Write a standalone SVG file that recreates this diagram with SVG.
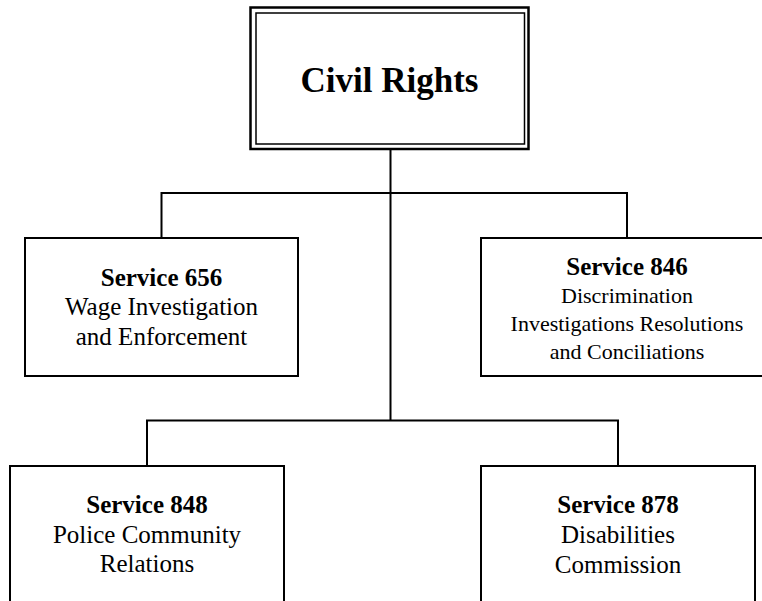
<svg xmlns="http://www.w3.org/2000/svg" width="762" height="601" viewBox="0 0 762 601">
<style>
.box{fill:#fff;stroke:#000;stroke-width:2}
.conn{fill:none;stroke:#000;stroke-width:2}
.t{font-family:"Liberation Serif","Times New Roman",serif;text-anchor:middle;fill:#000}
.b{font-weight:bold;font-size:25px}
.r{font-size:25px}
.s{font-size:22px}
</style>
<rect width="762" height="601" fill="#fff"/>
<g id="connectors">
<path class="conn" d="M390.5 149 V420.5"/>
<path class="conn" d="M161.5 193 H627 M161.5 192 V238 M627 192 V238"/>
<path class="conn" d="M147 420.5 H618 M147 419.5 V466 M618 419.5 V466"/>
</g>
<g id="civil-rights">
<rect x="250.5" y="7.5" width="278" height="141.5" fill="#fff" stroke="#000" stroke-width="2.5"/>
<rect x="256" y="13" width="268.5" height="131" fill="none" stroke="#000" stroke-width="1.5"/>
<text class="t" x="389.5" y="92" font-size="35" font-weight="bold">Civil Rights</text>
</g>
<g id="service-656">
<rect class="box" x="25" y="238" width="273" height="138"/>
<text class="t b" x="161.5" y="286">Service 656</text>
<text class="t r" x="161.5" y="315">Wage Investigation</text>
<text class="t r" x="161.5" y="345">and Enforcement</text>
</g>
<g id="service-846">
<rect class="box" x="481" y="238" width="292" height="138"/>
<text class="t b" x="627" y="275">Service 846</text>
<text class="t s" x="627" y="303">Discrimination</text>
<text class="t s" x="627" y="331">Investigations Resolutions</text>
<text class="t s" x="627" y="359">and Conciliations</text>
</g>
<g id="service-848">
<rect class="box" x="10" y="466" width="274" height="150"/>
<text class="t b" x="147" y="513">Service 848</text>
<text class="t r" x="147" y="543">Police Community</text>
<text class="t r" x="147" y="572">Relations</text>
</g>
<g id="service-878">
<rect class="box" x="481" y="466" width="274" height="150"/>
<text class="t b" x="618" y="513">Service 878</text>
<text class="t r" x="618" y="543">Disabilities</text>
<text class="t r" x="618" y="573">Commission</text>
</g>
</svg>
